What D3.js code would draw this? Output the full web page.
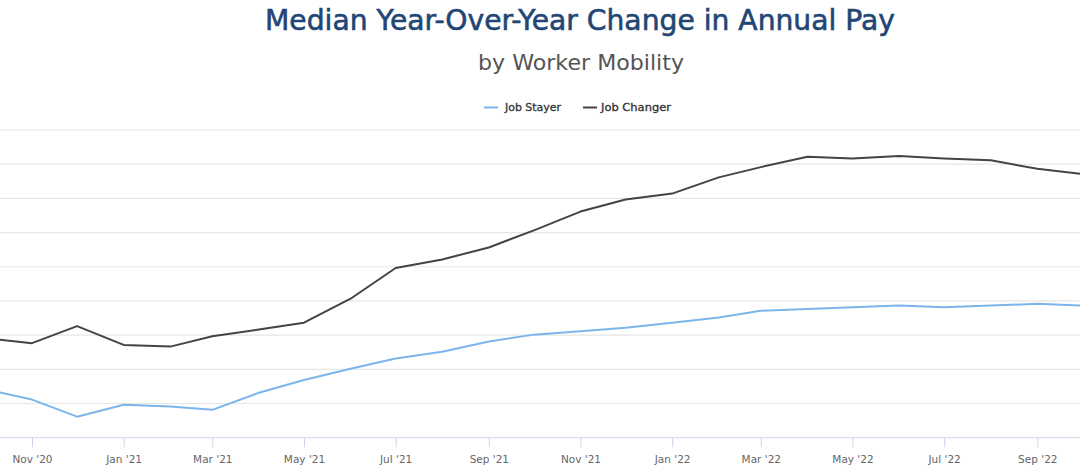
<!DOCTYPE html>
<html>
<head>
<meta charset="utf-8">
<script src="https://cdn.jsdelivr.net/npm/d3@7"></script>
<style>
  html, body { margin: 0; padding: 0; background: #ffffff; overflow: hidden; }
  svg { display: block; }
</style>
</head>
<body>
<svg id="chart" width="1080" height="466"></svg>
<script>
// ---- Data ----
const months = ["2020-10","2020-11","2020-12","2021-01","2021-02","2021-03","2021-04","2021-05",
  "2021-06","2021-07","2021-08","2021-09","2021-10","2021-11","2021-12","2022-01","2022-02",
  "2022-03","2022-04","2022-05","2022-06","2022-07","2022-08","2022-09","2022-10"];
const jobStayer = [2.8, 2.2, 1.2, 1.9, 1.8, 1.6, 2.6, 3.35, 4.0, 4.6, 5.0, 5.6, 6.0, 6.2, 6.4,
  6.7, 7.0, 7.4, 7.5, 7.6, 7.7, 7.6, 7.7, 7.8, 7.7];
const jobChanger = [5.8, 5.5, 6.5, 5.4, 5.3, 5.9, 6.3, 6.7, 8.1, 9.9, 10.4, 11.1, 12.1, 13.2, 13.9,
  14.25, 15.2, 15.8, 16.4, 16.3, 16.45, 16.3, 16.2, 15.7, 15.4];
const seriesNames = ["Job Stayer", "Job Changer"];
const xTickMonths = ["2020-11","2021-01","2021-03","2021-05","2021-07","2021-09","2021-11",
  "2022-01","2022-03","2022-05","2022-07","2022-09"];
const yTickValues = [0, 2, 4, 6, 8, 10, 12, 14, 16, 18];
const titleText = "Median Year-Over-Year Change in Annual Pay";
const subtitleText = "by Worker Mobility";

// ---- Layout ----
const W = 1080, H = 466;
const plotTop = 129.5, plotBottom = 437.2;
const colors = ["#7cb5ec", "#434348"];
const parse = d3.utcParse("%Y-%m");
const fmt = d3.utcFormat("%b '%y");

const svg = d3.select("#chart");

const x = d3.scaleUtc()
  .domain([parse("2020-11"), parse("2022-09")])
  .range([32, 1037.3]);
const y = d3.scaleLinear().domain([0, 18]).range([plotBottom, plotTop]);

// gridlines (y axis labels fall outside the visible crop)
const grid = svg.append("g")
  .call(d3.axisLeft(y).tickValues(yTickValues.slice(1)).tickSize(-W).tickFormat(""));
grid.select(".domain").remove();
grid.selectAll(".tick line").attr("stroke", "#e6e6e6").attr("stroke-width", 1.2);

// x axis
const xa = svg.append("g")
  .attr("transform", `translate(0,${plotBottom})`)
  .call(d3.axisBottom(x).tickValues(xTickMonths.map(parse)).tickFormat(fmt).tickSize(10).tickPadding(8));
xa.select(".domain").attr("d", `M0,0.5H${W}`).attr("stroke", "#ccd6eb");
xa.selectAll(".tick line").attr("stroke", "#ccd6eb");
xa.selectAll(".tick text")
  .attr("fill", "#666666")
  .attr("font-family", "DejaVu Sans, sans-serif")
  .attr("font-size", 10.5);

// lines
const data = [jobStayer, jobChanger];
const line = d3.line()
  .x((d, i) => x(parse(months[i])))
  .y(d => y(d));
data.forEach((vals, k) => {
  svg.append("path")
    .datum(vals)
    .attr("fill", "none")
    .attr("stroke", colors[k])
    .attr("stroke-width", 2)
    .attr("stroke-linejoin", "round")
    .attr("stroke-linecap", "round")
    .attr("d", line);
});

// title + subtitle
svg.append("text")
  .attr("x", 580).attr("y", 30)
  .attr("text-anchor", "middle")
  .attr("font-family", "DejaVu Sans, sans-serif")
  .attr("font-size", 28)
  .attr("fill", "#1f4675")
  .attr("stroke", "#1f4675")
  .attr("stroke-width", 0.6)
  .attr("textLength", 630)
  .attr("lengthAdjust", "spacingAndGlyphs")
  .text(titleText);

svg.append("text")
  .attr("x", 581).attr("y", 70)
  .attr("text-anchor", "middle")
  .attr("font-family", "DejaVu Sans, sans-serif")
  .attr("font-size", 21)
  .attr("fill", "#555555")
  .attr("textLength", 206)
  .attr("lengthAdjust", "spacingAndGlyphs")
  .text(subtitleText);

// legend
const legendItems = [
  { sx: 484, tx: 505, tw: 56 },
  { sx: 583, tx: 601, tw: 70 }
];
legendItems.forEach((it, k) => {
  svg.append("line")
    .attr("x1", it.sx).attr("x2", it.sx + 14)
    .attr("y1", 107.5).attr("y2", 107.5)
    .attr("stroke", colors[k]).attr("stroke-width", 2);
  svg.append("text")
    .attr("x", it.tx).attr("y", 111)
    .attr("font-family", "DejaVu Sans, sans-serif")
    .attr("font-size", 10.5)
    .attr("fill", "#333333")
    .attr("stroke", "#333333")
    .attr("stroke-width", 0.3)
    .attr("textLength", it.tw)
    .attr("lengthAdjust", "spacingAndGlyphs")
    .text(seriesNames[k]);
});
</script>
</body>
</html>
